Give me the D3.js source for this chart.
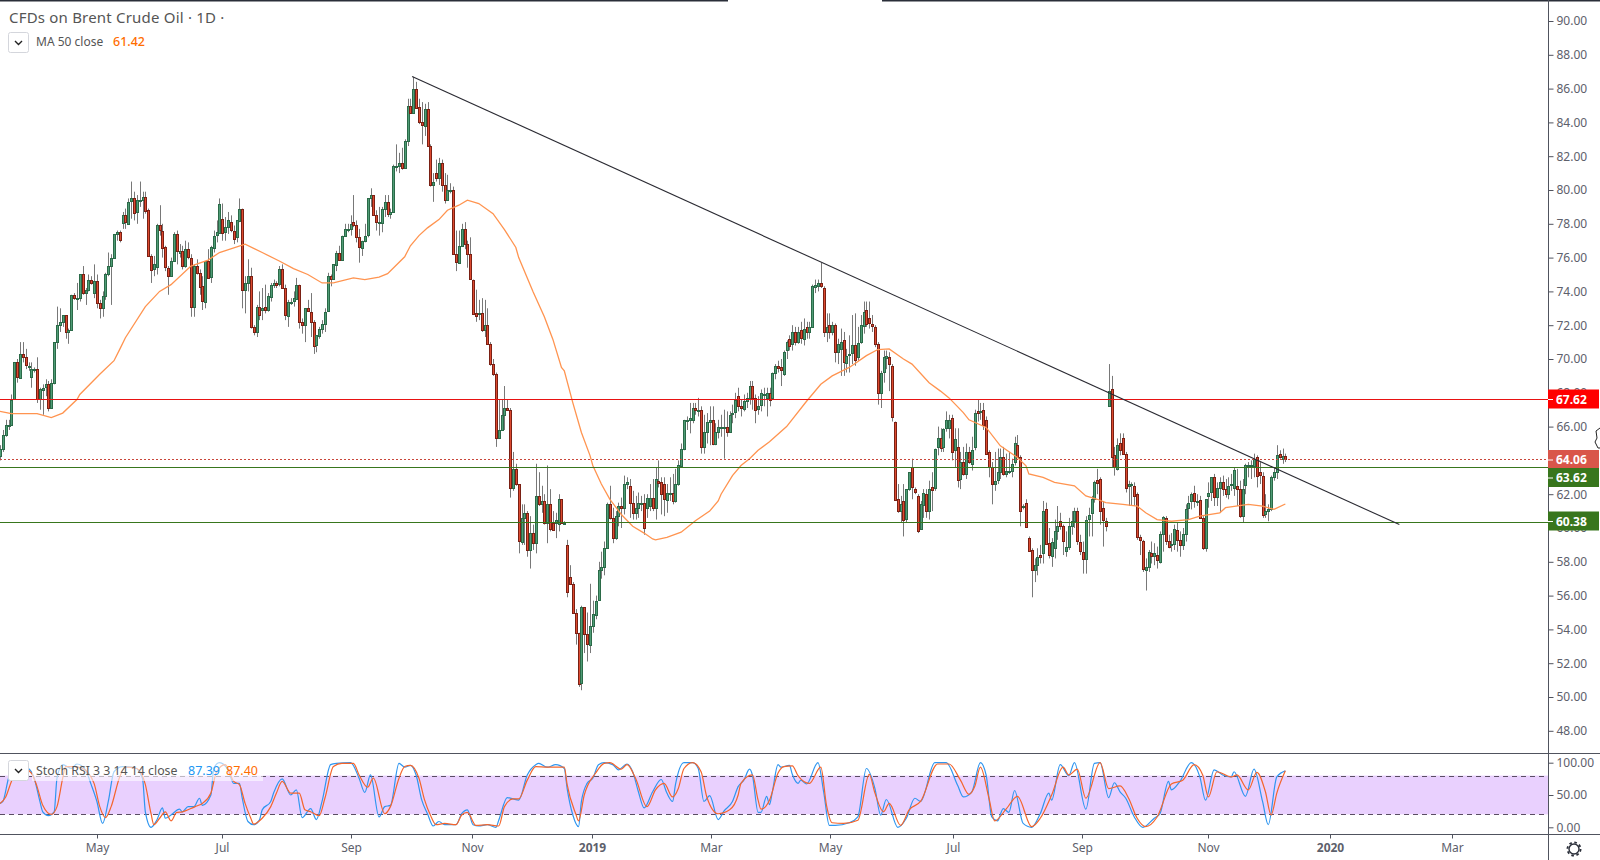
<!DOCTYPE html>
<html><head><meta charset="utf-8">
<script src="https://cdn.jsdelivr.net/npm/d3@7"></script>
<style>html,body{margin:0;padding:0;background:#fff}svg{display:block}text{font-family:"Noto Sans",sans-serif}</style>
</head><body><div id="chart"></div>
<script>
// OHLC rows [open, high, low, close]
const barsA=[[64.3,64.9,64,64.7],[64.7,65.8,64.5,65.5],[65.5,66.4,65.4,66.1],[66.1,66.4,65.8,66.1],[66.1,67.9,66.1,67.6],[67.6,69.8,67.6,69.8],[69.8,70,68.6,68.9],[68.9,71,68.9,70.3],[70.3,71,69.8,70.1],[70.1,70.6,69.4,69.6],[69.6,69.8,69.3,69.6],[68.9,69.8,68.3,69.4],[69.4,69.5,69.2,69.4],[69.4,70.1,67.4,67.6],[67.6,68.3,67,68.2],[68.2,68.5,66.7,68.3],[68.3,68.8,67.8,68.5],[68.5,68.7,66.9,67.1],[67.1,68.8,67.1,68.6],[68.6,71,68.5,71],[71,73.1,70.6,72],[72,73,71.6,72.2],[72.2,72.6,71.9,72.6],[72.6,72.6,71.2,71.6],[71.6,71.8,70.9,71.7],[71.7,73.8,71.7,73.8],[73.8,73.9,73.5,73.6],[73.6,74.5,72.9,73.6],[73.6,75,73.4,75],[75,75.5,73.8,73.9],[73.9,74.2,73.2,74.1],[74.1,75,74,74.7],[74.7,74.9,74.4,74.5],[73.9,75.6,73.6,74.6],[74.6,75,73,73.3],[73.3,73.5,72.4,73],[73,74,72.5,73.7],[73.7,75.1,73.5,75],[75,76.3,74.9,75.5],[75.5,76.2,73.2,76],[76,77.4,76,77.4],[77.4,77.6,77,77.5],[77.5,77.6,76.9,77],[78,78.7,77.7,78.5],[78.5,78.9,77.7,78.1],[78,79.5,78,79.3],[79.3,80.5,78.3,79.5],[79.5,79.9,78.2,78.6],[78.7,79.7,78,79.4],[79.4,80.5,79,79.4],[79.4,79.9,78.3,79.6],[79.6,79.9,78.6,78.8],[78.8,78.9,76.1,76.1],[76.1,76.2,74.5,75.3],[75.3,76.1,74.9,75.6],[75.4,78,75,77.9],[77.9,79.1,77.3,77.6],[77.6,78,76,76.6],[76.6,76.7,75.2,75.4],[75.4,75.5,73.8,74.9],[74.9,76,74.9,75.8],[75.8,77.5,75.8,77.4],[77.4,77.6,75.6,76.4],[76.3,76.8,76,76.4],[76.4,76.7,75.3,75.5],[75.5,77,75.4,76.5],[76.5,76.9,75.9,76],[76,76.2,72.5,73.1],[73.1,75.6,72.5,75.5],[75.5,75.9,75,75.1],[75.1,75.3,73.8,74.3],[74.3,74.9,72.9,73.4],[73.4,75.8,73,75.8],[75.8,76.5,74.8,74.8],[74.8,76.7,74.5,76.6],[76.6,77.6,76.3,77.3],[77.3,78.2,76.9,77.5],[77.5,79.5,77.5,79.2],[78.3,79.2,77,77.5],[77.5,78.4,77,77.8],[77.8,78.7,77.4,78.2],[78.1,78.5,77.5,77.6],[77.6,77.9,76.8,77.1],[77.2,78.2,76.9,78.2],[78.2,79.5,78.1,78.9],[78.9,78.9,73,74.1],[74.1,74.9,72.7,74.5],[74.5,75.9,74,74.9],[74.9,75.4,71.8,71.9],[71.9,72,71.4,71.6],[71.6,73.2,71.3,73.1],[73.1,74,72.3,72.6],[72.9,74.2,72.3,73],[73.1,74.4,72.7,72.9],[72.9,73.9,72.8,73.7],[73.7,74.5,73.4,74.4],[74.4,74.7,74.2,74.5],[74.5,74.6,74.2,74.4],[74.4,75.5,74.3,75.3],[75.3,75.6,74.2,74.2],[74.2,74.4,72.3,72.6],[72.6,73.5,71.9,73.4],[73.4,73.6,73.2,73.4],[73.4,74,73.1,73.6],[73.6,74.8,73.5,74.4],[74.4,74.4,71.8,72.2],[72.2,72.4,71.5,72],[72,73,71,73],[73,73.5,72.8,72.8],[72.8,73.9,71.3,72.2],[72.2,72.3,70.3,70.8],[70.8,71.4,70.4,71.4],[71.4,71.9,71.2,71.8]];
const barsB=[[71.8,72.3,71.5,72.1],[72.1,73,71.6,72.8],[72.8,75.1,72.8,74.9],[74.9,75,74.3,74.7],[74.7,75.6,74.7,75.6],[75.6,76.4,75.2,76.3],[76.3,76.7,75.8,75.9],[75.9,77.3,75.8,77.3],[77.3,78,77.3,77.7],[77.7,78,77.5,77.7],[77.7,78.5,77.3,78],[78.1,79.7,77.8,77.9],[77.9,78.2,76.9,77.2],[77.2,77.7,75.7,76.6],[76.6,77,76.1,77],[77,78,76.9,77.3],[77.3,79.5,77.2,79.5],[79.5,80.1,79,79.7],[79.7,79.7,78.5,78.5],[78.5,78.8,77.6,78.1],[78.1,79,77.3,78.1],[78.1,79,77.5,78.9],[78.9,79.7,78.4,79.3],[79.3,79.7,78.4,78.6],[78.6,78.9,78.3,78.7],[78.7,81.5,78.7,81.4],[81.4,82.7,81.1,81.4],[81.4,82.2,81,81.6],[81.6,82.5,81.2,81.3],[81.3,83,81.3,82.9],[82.9,85.4,82.6,85],[85,85.4,84.5,84.6],[84.6,86.7,84.6,86],[86,86.4,84.9,84.9],[84.9,85.4,83.9,84],[84,85.2,82.7,83.8],[83.8,85.1,83.2,84.8],[84.8,85.2,82.6,82.6],[82.6,82.7,80.2,80.3],[80.3,81,79.3,80.5],[81,81.8,80.5,80.7],[80.7,81.9,80.3,81.6],[81.6,81.8,79.9,80.3],[80.3,81,79.2,79.4],[79.4,80.9,79.4,80],[80,80.4,79.8,80],[80,80.2,76.2,76.2],[76.2,77.6,75.2,75.7],[75.7,77.6,75.7,76.7],[76.7,78,76.7,77.7],[77.7,78.1,76.5,76.8],[76.8,77,75.4,76.2],[76.2,77.2,74.7,74.7],[74.7,74.7,72.7,72.7],[72.7,74.1,72.2,72.5],[72.7,73.5,72.3,72.7],[72.7,73.6,71.6,71.7],[71.7,73.5,71.3,72],[72,73,70.9,70.9],[70.9,71,69.6,69.7],[69.7,70,69,69.1],[69.1,69.2,64.8,65.3],[65.3,67.6,65.3,65.8],[65.8,67.6,65.8,66.7],[66.7,68.4,65.8,67.1],[67.1,67.6,67,67],[67,67.1,61.8,62.4],[62.4,64.5,62.2,63.5],[63.5,63.8,62.5,62.6],[62.6,62.6,58.5,59.2],[59.2,61.4,59,60.6],[60.6,61.4,59,60.9],[60.9,61,58.3,58.7],[58.7,60.7,57.6,59.7],[59.7,60.2,58.7,59.1],[59.1,63.8,58.5,61.9],[61.9,63.3,61.3,61.4],[61.4,62.5,60.9,61.6],[61.6,62,60.2,60.3],[60.3,63.7,59.1,61.4],[61.4,62.3,59.8,59.9],[60.3,61,59.9,59.9],[60.3,60.9,59.4,60.5],[60.2,62,59.8,61.7],[61.7,61.7,60.3,60.3],[60.3,60.4,60.2,60.3]];
const barsC=[[59,59.3,55.9,56.2],[57.1,57.8,56.7,56.7],[56.7,56.8,55,55],[55,55.2,53.1,53.8],[53.8,53.8,50.6,50.8],[50.8,55.4,50.4,55.3],[55.3,55.3,52.6,53.7],[53.7,55,52.1,53.1],[53.1,56.7,52.6,54.2],[54.2,55.7,53.8,54.9],[54.9,56,54.6,55.7],[55.7,58,55.7,57.5],[57.5,58.6,57,57.7],[57.7,59.2,57.2,58.8],[58.8,61.5,58.8,61.4],[61.4,62.5,60.5,60.6],[60.6,61.2,59.1,59.4],[59.4,61,59.3,60.7],[60.7,61.5,60.1,61.3],[61.3,61.8,60,61.2],[61.2,63.1,60.8,62.6],[62.6,63,62.3,62.7],[62.5,62.9,60.6,61.5],[61.5,62.2,60.5,60.9],[60.9,61.9,60.5,61.2],[61.2,62.1,60.6,61.5],[61.5,61.9,61,61.5],[61.5,62,59.6,60],[61.2,62,60.6,61.8],[61.3,62.6,61,61.8],[61.8,62.9,61,61.2],[61.2,63.6,60.5,62.9],[62.8,64,62.4,62.7],[62.7,63,60.8,62],[62.6,63,60.7,61.7],[61.7,62.6,60.9,62.1],[62.1,63,61.6,62.1],[62.1,63.2,61.4,61.6],[61.6,63.5,61.5,62.6],[62.6,64,62.5,63.7],[63.7,65,63.7,64.7],[64.7,66.4,64.6,66.4],[66.4,66.6,65.8,66.4],[66.4,67.4,65.6,66.5],[66.4,67.4,66.2,67.1],[67.1,67.4,66.7,67],[67,67.7,66.6,67],[67,67.2,64.4,64.8],[64.8,66.7,64.4,65.7],[65.7,66.8,65,66.3],[66.3,67.2,64.9,66.4],[66.4,67.2,64.9,65],[65,66.2,64.9,65.7],[65.7,66.4,65.3,66],[66,66.7,65.4,66],[66,67,64.1,66],[66,66.9,65.4,65.7],[65.7,66.9,65.7,66.7],[66.8,67.3,66.2,66.8],[66.9,68,66.5,67.6],[67.8,68.3,66.9,67.2],[67.2,67.6,66.6,67.1],[67,67.9,66.9,67.5],[67.5,68,67.1,67.7],[67.7,68.7,67.3,68.4],[68.4,68.7,67,67.7],[67.7,67.9,66.2,67],[67,67.8,66.7,67.2],[67.3,68.2,66.9,68],[67.9,68.3,67.2,67.9],[67.7,68.3,66.6,68],[68,68.3,67.2,67.6],[67.7,69.2,67.7,69.2],[69.2,69.7,68.8,69.6],[69.6,69.9,69.2,69.5],[69.5,70,68.4,69.3],[69.1,70.5,69,70.4],[70.5,71.1,70,71],[71.2,71.4,70.5,70.8],[70.9,72,70.5,71.6],[71.6,71.9,70.8,71],[71,71.9,70.9,71.6],[71.7,72.2,70.9,71.2],[71.2,72.4,70.8,71.8],[71.9,72.2,71.2,71.6],[71.6,72.2,71.2,71.9],[71.9,74.4,71.9,74.3],[74.3,74.7,73.9,74.4],[74.3,74.7,74,74.5],[74.5,75.7,74.2,74.3],[74.2,74.3,71.3,71.6],[71.6,72.7,71,71.9],[72,72.7,71.2,71.6],[71.6,72.2,71.4,72],[72,72.1,69.8,70.4],[70.4,71.2,69.7,70.9],[70.6,71.8,69,71],[71.1,71.6,69,69.8],[69.8,70.6,69.2,70.2],[70.3,71.4,69.2,70.3],[70.3,72.6,69.7,70.8],[70.8,72.7,69.6,69.9],[70.1,71.9,69.9,70.95],[71,72.6,70.9,72],[72,73.4,71.5,72.8],[72.9,73.4,71.9,72.1],[72.4,73.4,71.8,72.1],[72.1,72.6,71.6,72],[71.9,72,70.7,70.9],[70.9,71,67.3,68],[68,69.3,67.1,69.2],[69.2,70.5,68.6,70.1],[70.1,70.5,69.4,70.2],[70.1,70.4,68.1,69.7],[69.6,69.7,66.3,66.6]];
const barsD=[[66.3,66.3,61.7,61.7],[61.7,62.6,60.9,61],[61,61.9,60.3,61.4],[61.6,62.6,59.5,60.5],[60.5,62.3,60.3,62.3],[62.3,63.3,62.2,63.3],[63.6,64.1,61.7,62.4],[62.3,62.4,62,62.1],[61.9,62,59.7,59.8],[59.9,61.6,59.9,61.4],[61.4,62.3,60.6,62.1],[62,62.3,60.6,61],[61,62.8,60.5,62.3],[62.4,63.3,61,62.2],[62.4,64.7,62.2,64.7],[64.8,66,64.3,65.35],[65.35,65.9,64.5,64.76],[64.8,65.9,64.5,65.85],[65.9,66.9,65.7,66.4],[65.9,66.7,65.3,66.4],[66.5,66.7,64,64.5],[64.6,65.9,63.6,65.25],[64.8,65.9,62.4,62.85],[62.9,64.5,62.3,63.9],[63.9,64.8,63.1,63.2],[63.2,65,62.9,64.5],[64.5,64.8,63.8,63.9],[63.8,65.4,63.4,64.6],[64.8,67,64.6,66.8],[66.9,67.6,66.3,66.8],[66.9,67.4,66.4,66.9],[67,67.4,65.8,66.1],[66.4,66.6,64.4,64.4],[64.5,64.6,63,63.6],[63.6,63.9,61.4,62.6],[62.6,64.5,62.2,62.8],[62.8,64.7,62.6,63.3],[63.3,64.7,62.9,64.2],[64.2,64.8,63.1,63.2],[63.2,64.4,63,63.35],[63.35,64.5,63.2,63.4],[63.4,64.1,63,63.8],[63.9,65.4,63.7,65],[64.9,65.5,64.2,64.2],[64.2,64.3,60.1,61],[61.3,61.4,61.1,61.3],[61.5,61.7,60,60.1],[59.4,59.5,58.6,58.65],[58.7,58.8,55.9,57.5],[57.5,58.2,56.8,57.8],[57.8,58.8,57.2,58.3],[58.4,59,57.9,58.3],[58.5,61.6,57.9,61],[61.1,61.5,59,59],[59.1,60,58.2,58.4],[58.4,59.4,57.7,59.2],[58.8,60.5,58.2,59.8],[59.8,61.3,59.3,60.1]];
const barsE=[[60.4,60.9,59.9,60.1],[60.1,60.2,58.4,59.2],[58.6,59.8,58.3,58.85],[58.85,60.6,58.7,60.1],[60.1,61,59.6,60.4],[60.4,61.2,60,61],[61,61.2,59,59.2],[59.2,59.6,58.4,58.65],[58.6,59.2,57.3,58.2],[58.2,60.7,57.3,60.5],[60.5,61.2,59.5,60.75],[60.9,61.9,59.5,61.7],[61.7,62.8,61.5,62.7],[62.85,63.5,62,62.7],[62.9,63,60.2,61],[61.2,61.6,58.9,60.5],[60.4,60.6,59.8,60.1],[67.2,69.7,67.2,68.1],[68.2,69,63.6,64.2],[64.3,64.8,63.1,63.6],[63.5,65.3,63.4,64.9],[65,65.6,64.3,64.6],[65.35,65.6,64.4,64.4],[64.4,64.5,62.1,62.4],[62.5,62.8,61.3,62.6],[62.6,62.7,61.3,62.6],[62.5,62.7,61.3,61.9],[62,62.1,59.3,59.45],[59.45,59.6,58.4,59.25],[59.25,59.3,57.4,57.6],[57.5,58.2,56.3,57.7],[57.7,58.7,57.4,58.6],[58.5,59.2,57.9,58.3],[58.3,59.1,57.8,58.5],[58.4,58.9,57.6,58.1],[58,59.8,57.9,59.65],[59.65,60.7,58.6,60.67],[60.6,60.7,59,59.25],[59.25,59.6,58.8,58.9],[59,59.7,58.6,59.05],[59.05,60.2,58.7,59.95],[59.9,60.3,58.6,59.3],[59.3,59.8,58.3,59],[59,60,58.7,59.65],[59.65,61.4,59.2,61.15],[61.15,61.9,60.5,61.45],[61.6,62.1,61.1,62],[62.1,62.5,61.2,61.6],[61.6,62,61.3,61.6],[61.65,61.9,60.6,60.6],[60.6,60.7,58.7,58.8],[58.8,61.7,58.6,61.7],[61.9,62.7,61.2,62.1],[62.1,63,61.6,63],[63,63.2,61.3,61.8],[61.8,62.7,61.3,62.35],[62.35,63,60.9,62.7],[62.7,63.1,61.9,62.3],[62.3,62.9,61.8,62],[62,63,61.7,62.5],[62.6,63.2,62.2,62.6],[62.4,63.6,61.9,63.45],[62.5,63.5,61.3,62.3],[62.3,62.8,60.6,60.7],[60.7,62.9,60.3,62.3],[62.5,63.8,62,63.7],[63.7,63.9,63,63.7],[63.7,64,62.9,63.7],[63.7,64.4,63,64.1],[64.2,64.3,62.4,63.1],[63.3,63.9,62.6,63.1],[63.1,63.3,60.6,60.8],[60.8,62,60.6,61],[61,61.4,60.4,61.1],[61.1,63.1,61,63],[63,63.6,62.8,63.3],[63.3,64.9,62.9,64.3],[64.4,64.6,64.1,64.2],[64.1,64.7,63.8,64.25],[64.25,64.4,63.9,64.06]];

const maBars=[0,4,13,18,22,27,28,35,40,42,44,51,56,60,67,73,77,86,92,98,103,108,113,117,124,128,133,136,142,144,147,150,154,157,161,164,168,173,177,181,182,187,191,194,197,198,201,204,207,208,211,214,218,222,226,229,230,234,239,244,249,252,253,257,260,263,266,270,276,283,288,292,298,304,308,312,317,320,326,330,333,338,340,346,351,357,360,361,366,370,377,381,385,388,394,399,402,406,411,417,421,428,430,438,443,447,451];
const maValues=[66.9,66.77,66.77,66.53,66.8,67.6,67.9,69.1,69.9,70.57,71.26,73.1,74,74.4,75.5,75.85,76.3,76.8,76.3,75.8,75.35,75,74.5,74.5,74.8,74.7,74.84,75.05,76.05,76.7,77.3,77.76,78.25,78.8,79.1,79.4,79.2,78.6,77.66,76.6,76,74,72.5,71.16,69.5,69.3,67.4,65.65,64.3,63.7,62.6,61.7,60.8,60.1,59.7,59.35,59.3,59.45,59.75,60.43,61,61.6,62,63.1,63.7,64.1,64.6,65.1,66,67.5,68.5,69,69.5,70.2,70.56,70.6,70,69.7,68.6,68.1,67.7,66.83,66.4,65.95,64.86,64.17,63.68,63.2,63,62.7,62.5,61.9,61.7,61.5,61.4,61.3,60.9,60.5,60.4,60.5,60.7,60.9,61.2,61.4,61.3,61.1,61.42];

const kBars=[0,1,3,6,10,12,14,15,17,19,20,22,25,27,30,32,34,36,38,40,43,47,50,51,53,55,57,58,60,63,64,66,68,70,71,74,75,77,80,82,84,85,87,89,91,92,95,96,99,102,104,106,109,111,113,116,118,123,126,128,130,133,135,137,140,142,144,146,148,150,152,154,156,160,162,164,166,168,171,174,175,178,180,182,185,188,189,192,195,198,199,201,203,204,206,208,210,212,215,217,220,222,224,226,229,232,234,236,237,240,243,245,247,249,252,254,257,259,261,263,264,266,267,269,270,271,273,274,277,278,280,281,283,287,289,291,293,298,301,304,307,309,311,315,318,321,323,328,332,336,338,341,344,346,348,350,352,354,356,359,362,365,368,369,372,375,377,381,384,386,389,391,393,395,398,401,405,407,410,411,414,418,421,423,426,429,432,433,437,440,443,445,448,451];
const kValues=[37,40,76,97,91,76,40,24,18,24,76,97,91,98,89,66,40,6,40,86,94,93,76,24,0,11,30,14,19,28,24,32,32,45,34,50,91,100,89,68,68,45,9,4,11,27,40,53,75,50,58,15,29,12,40,97,99,100,76,54,81,16,32,34,99,93,96,81,42,21,2,9,4,4,21,27,4,2,4,0,11,46,44,42,81,97,99,93,97,91,60,19,1,40,68,76,97,100,97,89,98,86,55,30,55,74,53,40,66,100,100,91,40,49,12,25,40,63,73,90,81,23,23,48,35,55,97,93,96,82,68,73,67,100,55,3,3,7,16,91,60,19,43,0,14,45,40,100,100,65,47,55,100,81,16,10,29,23,57,6,0,21,53,42,97,80,100,28,99,100,46,69,55,45,16,0,14,21,71,58,71,100,78,42,89,81,78,86,48,90,40,4,78,87.39];
const dBars=[0,2,4,7,11,13,15,18,20,22,23,26,29,33,35,37,39,42,44,48,51,53,54,56,58,60,62,64,67,69,71,74,76,79,82,84,86,88,89,92,95,97,99,102,105,107,109,112,114,117,120,124,126,129,131,135,137,140,142,144,147,149,151,153,156,160,162,164,167,171,175,177,180,182,185,188,192,198,199,202,203,205,209,212,214,218,220,223,227,230,233,236,238,240,243,246,248,252,256,259,260,264,266,267,270,273,275,278,280,284,288,290,292,296,301,305,307,310,312,316,319,323,329,333,337,340,342,344,347,349,353,357,362,365,369,373,375,378,381,386,389,393,396,399,402,406,411,415,419,422,424,427,432,434,438,441,444,446,448,451];
const dValues=[37,47,71,94,84,63,34,20,32,76,94,94,91,68,32,15,32,78,93,91,66,21,4,14,24,10,23,24,29,33,37,53,86,97,71,66,37,14,5,14,32,53,71,53,53,27,24,18,45,94,99,99,81,62,76,21,32,76,94,96,76,42,19,4,6,4,19,23,3,4,2,32,44,44,73,94,93,93,66,21,10,50,84,99,100,90,97,76,32,58,68,47,60,91,100,86,47,21,27,50,68,81,42,28,42,84,94,95,80,68,93,34,7,6,11,82,53,24,37,3,27,40,98,98,73,51,63,93,45,10,28,48,1,14,50,93,81,90,45,100,60,64,45,14,1,16,67,73,97,81,47,86,78,81,58,85,55,19,53,87.4];

const priceTicks=[90,88,86,84,82,80,78,76,74,72,70,68,66,64,62,60,58,56,54,52,50,48];
const stochTicks=[100,50,0];
const monthLabels=["May","Jul","Sep","Nov","2019","Mar","May","Jul","Sep","Nov","2020","Mar"];
const monthBars=[34.2,78,123.2,165.6,207.7,249.5,291.4,334.5,379.8,423.7,466.7,509.5];
const priceLevels=[67.62,63.62,60.38];
const lastPrice=64.06;
const trendBars=[144.6,491];
const trendPrices=[86.72,60.2];

const bars=[...barsA,...barsB,...barsC,...barsD,...barsE];
const W=1600,H=860,axisX=1548,paneB=753,stochB=834;
const svg=d3.select("#chart").append("svg").attr("width",W).attr("height",H).attr("viewBox",[0,0,W,H]);
const x=d3.scaleLinear().domain([0,axisX/2.85]).range([0,axisX]);
const y=d3.scaleLinear().domain([90,48]).range([21,730.8]);
const s=d3.scaleLinear().domain([100,0]).range([762.7,827.3]);
const defs=svg.append("defs");
defs.append("clipPath").attr("id","cm").append("rect").attr("x",0).attr("y",0).attr("width",axisX).attr("height",paneB);
defs.append("clipPath").attr("id","cs").append("rect").attr("x",0).attr("y",paneB).attr("width",axisX).attr("height",stochB-paneB);
const main=svg.append("g").attr("clip-path","url(#cm)");
const UPF="#4f9c76",UPS="#2b6a48",DNF="#dc4a30",DNS="#7a2014",WICK="#787878";

// wicks and bodies
main.append("g").selectAll("line").data(bars).join("line")
 .attr("x1",(d,i)=>Math.round(x(i))+.5).attr("x2",(d,i)=>Math.round(x(i))+.5)
 .attr("y1",d=>y(d[1])).attr("y2",d=>y(d[2])).attr("stroke",WICK).attr("stroke-width",1);
main.append("g").selectAll("rect").data(bars).join("rect")
 .attr("x",(d,i)=>Math.round(x(i))-.5).attr("width",2)
 .attr("y",d=>Math.round(y(Math.max(d[0],d[3])))+.5)
 .attr("height",d=>Math.max(1,Math.round(Math.abs(y(d[0])-y(d[3])))))
 .attr("fill",d=>d[3]>=d[0]?UPF:DNF).attr("stroke",d=>d[3]>=d[0]?UPS:DNS).attr("stroke-width",1);

// moving average
main.append("path").datum(maBars.map((b,i)=>[b,maValues[i]])).attr("fill","none").attr("stroke","#ff9450").attr("stroke-width",1.3)
 .attr("d",d3.line().x(d=>x(d[0])).y(d=>y(d[1])));

// levels
const levelColors=["#e81212","#38761d","#38761d"];
main.selectAll(".lvl").data(priceLevels).join("line").attr("x1",0).attr("x2",axisX).attr("y1",d=>Math.round(y(d))+.5).attr("y2",d=>Math.round(y(d))+.5).attr("stroke",(d,i)=>levelColors[i]).attr("stroke-width",1.2);
main.append("line").attr("x1",0).attr("x2",axisX).attr("y1",Math.round(y(lastPrice))+.5).attr("y2",Math.round(y(lastPrice))+.5).attr("stroke","#c9463a").attr("stroke-dasharray","2 2").attr("stroke-width",1);
// trend line
main.append("line").attr("x1",x(trendBars[0])).attr("y1",y(trendPrices[0])).attr("x2",x(trendBars[1])).attr("y2",y(trendPrices[1])).attr("stroke","#2b2b33").attr("stroke-width",1.1);

// stochastic pane
const st=svg.append("g").attr("clip-path","url(#cs)");
st.append("rect").attr("x",0).attr("width",axisX).attr("y",s(80)).attr("height",s(20)-s(80)).attr("fill","#e9d0fe");
[80,20].forEach(v=>st.append("line").attr("x1",0).attr("x2",axisX).attr("y1",Math.round(s(v))+.5).attr("y2",Math.round(s(v))+.5).attr("stroke","#5a4d63").attr("stroke-dasharray","5 4").attr("stroke-width",1));
const ln=d3.line().x(d=>x(d[0])).y(d=>s(d[1])).curve(d3.curveMonotoneX);
st.append("path").datum(kBars.map((b,i)=>[b,kValues[i]])).attr("fill","none").attr("stroke","#2f96f0").attr("stroke-width",1.2).attr("d",ln);
st.append("path").datum(dBars.map((b,i)=>[b,dValues[i]])).attr("fill","none").attr("stroke","#f4652c").attr("stroke-width",1.2).attr("d",ln);

// frames
const frame="#50535e";
svg.append("rect").attr("x",0).attr("y",0).attr("width",728).attr("height",1.5).attr("fill","#2a2e39");
svg.append("rect").attr("x",882).attr("y",0).attr("width",W-882).attr("height",1.5).attr("fill","#2a2e39");
svg.append("line").attr("x1",0).attr("x2",W).attr("y1",paneB+.5).attr("y2",paneB+.5).attr("stroke",frame);
svg.append("line").attr("x1",0).attr("x2",W).attr("y1",stochB+.5).attr("y2",stochB+.5).attr("stroke",frame);
svg.append("line").attr("x1",axisX+.5).attr("x2",axisX+.5).attr("y1",0).attr("y2",H).attr("stroke",frame);

// price axis
const pa=svg.append("g").attr("transform",`translate(${axisX+.5},0)`).call(d3.axisRight(y).tickValues(priceTicks).tickSize(5).tickPadding(3).tickFormat(d3.format(".2f")));
pa.select(".domain").remove();
pa.selectAll("line").attr("stroke",frame);
pa.selectAll("text").attr("fill","#5d606b").attr("font-size",12).style("font-family",'"Noto Sans",sans-serif');
const sa=svg.append("g").attr("transform",`translate(${axisX+.5},0)`).call(d3.axisRight(s).tickValues(stochTicks).tickSize(5).tickPadding(3).tickFormat(d3.format(".2f")));
sa.select(".domain").remove();
sa.selectAll("line").attr("stroke",frame);
sa.selectAll("text").attr("fill","#5d606b").attr("font-size",12).style("font-family",'"Noto Sans",sans-serif');

// price labels
const tags=[{v:"67.62",c:"#ff0000",cy:399},{v:"64.06",c:"#d9564a",cy:459.5},{v:"63.62",c:"#38761d",cy:477.5},{v:"60.38",c:"#38761d",cy:521}];
const tg=svg.append("g").selectAll("g").data(tags).join("g").attr("transform",d=>`translate(${axisX},${d.cy})`);
tg.append("rect").attr("x",0).attr("y",-9.5).attr("width",W-axisX-1).attr("height",19).attr("fill",d=>d.c);
tg.append("line").attr("x1",0).attr("x2",5).attr("y1",.5).attr("y2",.5).attr("stroke","#fff");
tg.append("text").attr("x",8).attr("y",4.5).attr("fill","#fff").attr("font-size",12).attr("font-weight",700).text(d=>d.v);

// time axis
const ta=svg.append("g").attr("transform",`translate(0,${stochB+.5})`);
const tk=ta.selectAll("g").data(monthBars).join("g").attr("transform",d=>`translate(${Math.round(x(d))+.5},0)`);
tk.append("line").attr("y1",0).attr("y2",4).attr("stroke",frame);
tk.append("text").attr("y",17).attr("text-anchor","middle").attr("font-size",12).attr("fill","#5d606b").attr("font-weight",(d,i)=>/^\d/.test(monthLabels[i])?700:400).text((d,i)=>monthLabels[i]);

// legend
svg.append("text").attr("x",9).attr("y",22.5).attr("font-size",15).attr("letter-spacing",.2).attr("fill","#555").text("CFDs on Brent Crude Oil · 1D ·");
function box(yy){const g=svg.append("g").attr("transform",`translate(8.5,${yy}.5)`);
 g.append("rect").attr("width",20).attr("height",20).attr("rx",2).attr("fill","#fff").attr("stroke","#d4d6dc");
 g.append("path").attr("d","M6.5 8.5 L10 12 L13.5 8.5").attr("fill","none").attr("stroke","#222").attr("stroke-width",1.4);}
box(32);
svg.append("text").attr("x",36).attr("y",46).attr("font-size",12).attr("fill","#555").text("MA 50 close");
svg.append("text").attr("x",113).attr("y",46).attr("font-size",12.5).attr("font-weight",500).attr("fill","#ff6d00").text("61.42");
svg.append("rect").attr("x",32).attr("y",760).attr("width",231).attr("height",21).attr("fill","#fff").attr("fill-opacity",.6);
box(760);
svg.append("text").attr("x",36).attr("y",775).attr("font-size",12.3).attr("fill","#555").text("Stoch RSI 3 3 14 14 close");
svg.append("text").attr("x",188).attr("y",775).attr("font-size",12.5).attr("fill","#2196f3").text("87.39");
svg.append("text").attr("x",226).attr("y",775).attr("font-size",12.5).attr("fill","#ff6d00").text("87.40");

// settings gear
const gear=svg.append("g").attr("transform","translate(1574,849)");
gear.append("circle").attr("r",5).attr("fill","none").attr("stroke","#2a2e39").attr("stroke-width",1.4);
gear.append("circle").attr("r",6.6).attr("fill","none").attr("stroke","#2a2e39").attr("stroke-width",1.8).attr("stroke-dasharray","2.6 2.6");

// mouse pointer cut off at the right edge
svg.append("path").attr("d","M1600 428 L1596 431 L1597 438 L1595 442 L1598 448 L1600 448").attr("fill","#fff").attr("stroke","#222").attr("stroke-width",1);
</script></body></html>
